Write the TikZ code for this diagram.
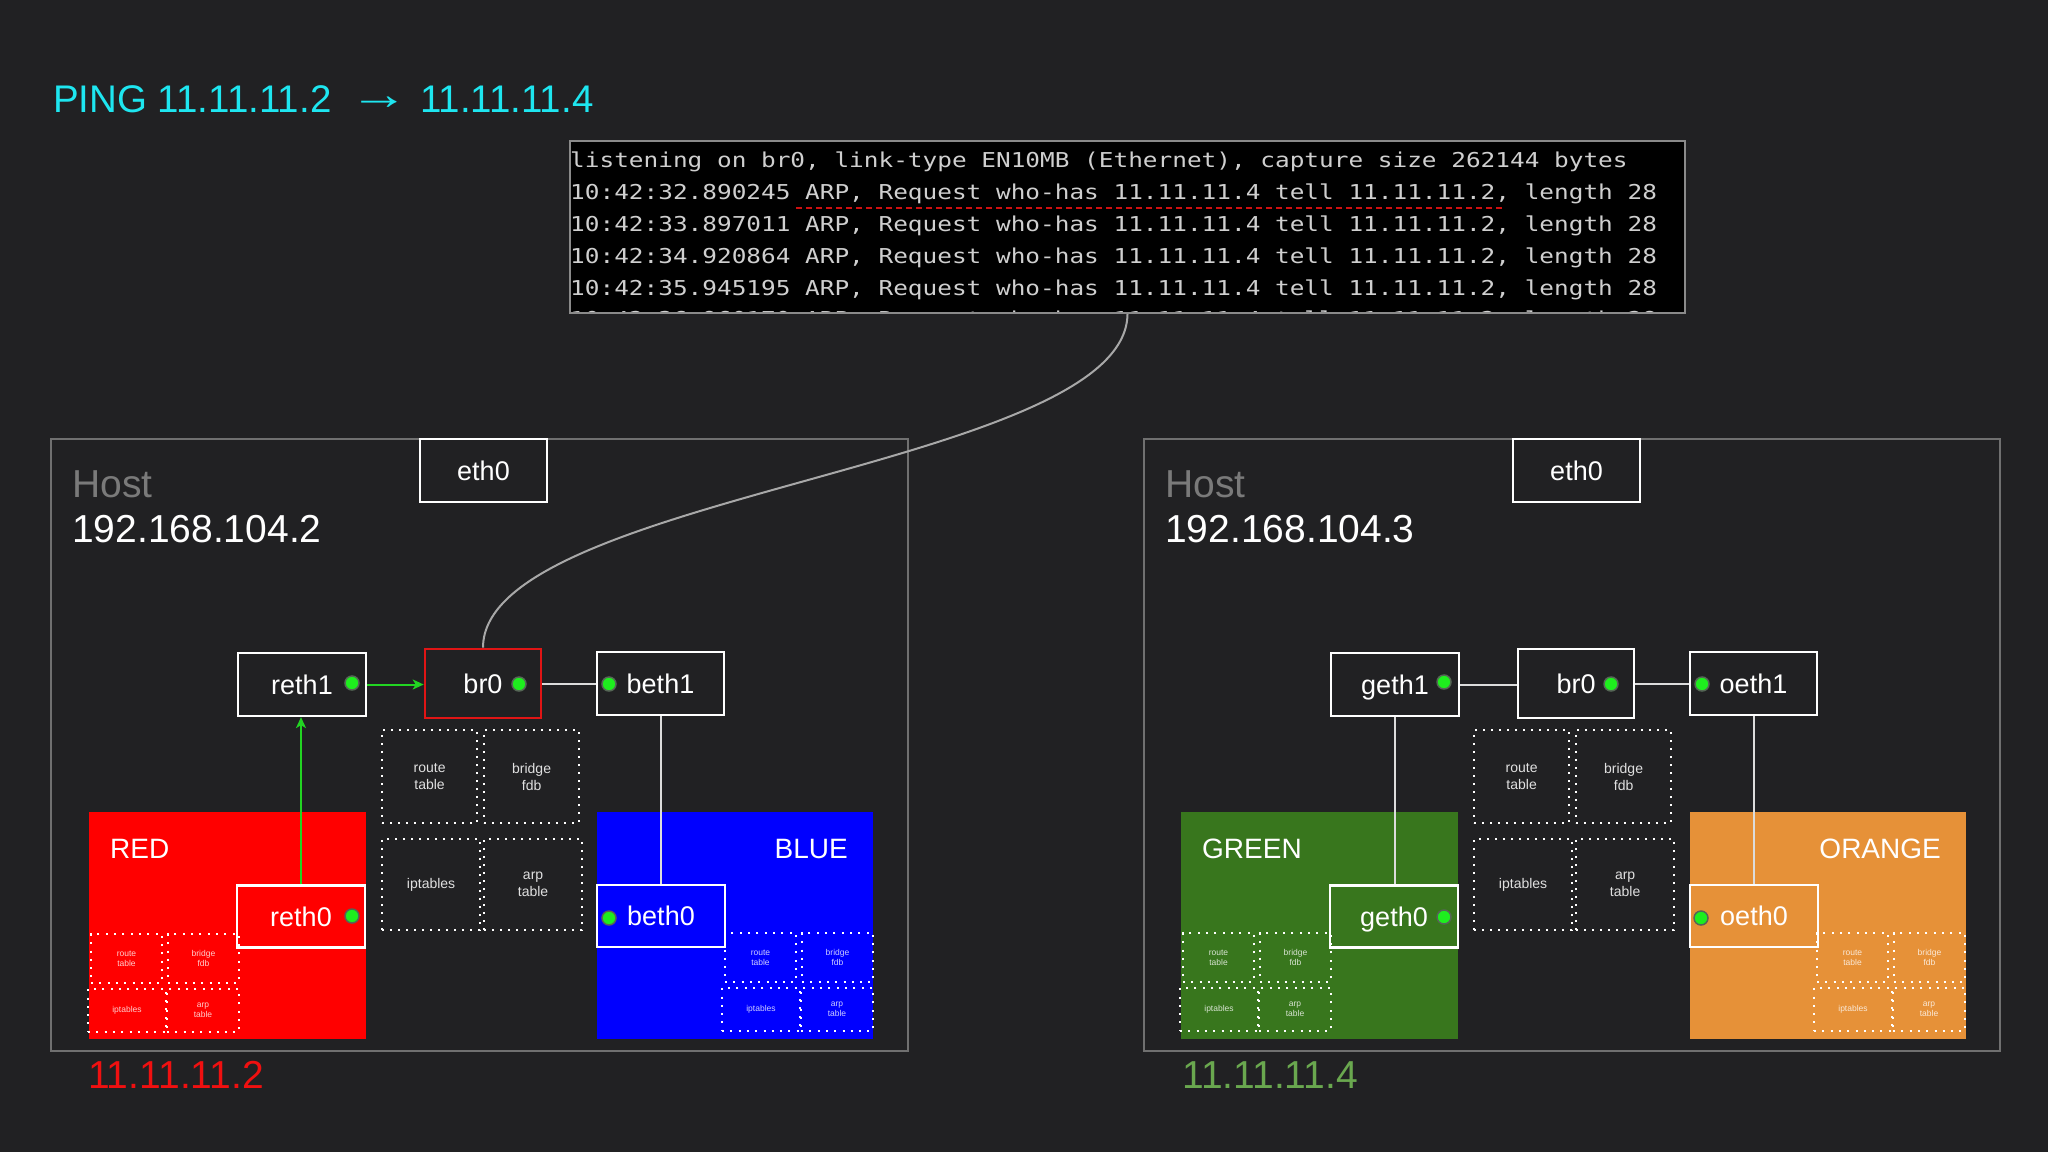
\documentclass[tikz,border=0pt]{standalone}
\usepackage{graphicx}
\usepackage{fontspec}
\setmainfont{Liberation Sans}
\newfontfamily\termfont[FakeStretch=1.19]{DejaVu Sans Mono}
\usetikzlibrary{arrows.meta}
\definecolor{bgc}{HTML}{212123}
\definecolor{hostc}{HTML}{707070}
\definecolor{hostgray}{HTML}{7A7A7A}
\definecolor{curvec}{HTML}{A8A8A8}
\definecolor{linkc}{HTML}{DCDCDC}
\definecolor{termborder}{HTML}{8A8A8A}
\definecolor{termtext}{HTML}{CFCFCF}
\definecolor{titlecyan}{HTML}{1EE6F0}
\definecolor{brred}{HTML}{E01515}
\definecolor{nsred}{HTML}{FF0000}
\definecolor{nsblue}{HTML}{0000FF}
\definecolor{nsgreen}{HTML}{38761D}
\definecolor{nsorange}{HTML}{E69138}
\definecolor{ipred}{HTML}{F01010}
\definecolor{ipgreen}{HTML}{6AA84F}
\definecolor{dotg}{HTML}{1EEE1E}
\definecolor{dotrim}{HTML}{556655}
\definecolor{arrowg}{HTML}{22D422}
\definecolor{tabtext}{HTML}{E0E0E0}
\definecolor{dashred}{HTML}{CC1111}
\tikzset{
  iface/.style={draw=white, line width=2.2pt, minimum width=128pt, minimum height=63pt,
    inner sep=0pt, text=white, text height=19.5pt, text depth=0pt,
    font=\fontsize{27}{32}\selectfont},
  ifdot/.style={circle, fill=dotg, draw=dotrim, line width=1.5pt, minimum size=14pt, inner sep=0pt},
  bigtab/.style={draw=white, line width=2.2pt, dash pattern=on 2.2pt off 5.8pt, align=center,
    text=tabtext, font=\fontsize{14}{17}\selectfont, inner sep=0pt, anchor=north west},
  smalltab/.style={draw=white, line width=2pt, dash pattern=on 2pt off 6.3pt, align=center,
    text=white, text opacity=0.8, font=\fontsize{8.5}{10.3}\selectfont, inner sep=0pt, anchor=north west},
  nsbox/.style={inner sep=0pt, minimum width=277pt, minimum height=227pt, anchor=north west},
  nslabel/.style={text=white, font=\fontsize{28}{32}\selectfont, inner sep=0pt},
  hostbox/.style={draw=hostc, line width=2.5pt},
  ethbox/.style={draw=white, fill=bgc, line width=2.2pt, minimum width=127pt, minimum height=63pt,
    inner sep=0pt, text=white, font=\fontsize{27}{32}\selectfont},
  link/.style={draw=linkc, line width=2pt},
  garrow/.style={draw=arrowg, line width=2pt, -{Stealth[length=11pt,width=10pt,inset=3pt]}},
  termline/.style={anchor=base west, inner sep=0pt, text=termtext,
    font=\termfont\fontsize{20.5}{24}\selectfont},
  bigtext/.style={inner sep=0pt, anchor=base west, font=\fontsize{39}{44}\selectfont}
}
\newcommand\bigtables[3]{%
  \node[bigtab, minimum width=95pt, minimum height=93pt] (#1rt) at (#2,#3) {route\\table};
  \node[bigtab, minimum width=95pt, minimum height=93pt] (#1bf) at (#2+102,#3) {bridge\\fdb};
  \node[bigtab, minimum width=98pt, minimum height=91pt] (#1ip) at (#2,#3+109) {iptables};
  \node[bigtab, minimum width=98pt, minimum height=91pt] (#1arp) at (#2+102,#3+109) {arp\\table};
}
\newcommand\smalltables[3]{%
  \node[smalltab, minimum width=71pt, minimum height=49pt] (#1rt) at (#2+1,#3) {route\\table};
  \node[smalltab, minimum width=71pt, minimum height=49pt] (#1bf) at (#2+78,#3) {bridge\\fdb};
  \node[smalltab, minimum width=78pt, minimum height=43pt] (#1ip) at (#2-2,#3+55) {iptables};
  \node[smalltab, minimum width=72pt, minimum height=43pt] (#1arp) at (#2+77,#3+55) {arp\\table};
}
\begin{document}
\begin{tikzpicture}[x=1pt, y=-1pt]
\fill[bgc] (0,0) rectangle (2048,1152);
\useasboundingbox (0,0) rectangle (2048,1152);

% title
\node[inner sep=0pt, anchor=base west, text=titlecyan, font=\fontsize{38.5}{44}\selectfont] (title) at (53,112)
  {PING 11.11.11.2\hspace{18pt}\raisebox{3pt}{\scalebox{1.55}[1.15]{→}}\hspace{11pt}11.11.11.4};

% terminal
\node[fill=black, draw=termborder, line width=2pt, minimum width=1115pt, minimum height=172pt,
  inner sep=0pt, anchor=north west] (term) at (569,140) {};
\node[termline] (l1) at (570,167) {listening on br0, link-type EN10MB (Ethernet), capture size 262144 bytes};
\node[termline] (l2) at (570,199.5) {10:42:32.890245 ARP, Request who-has 11.11.11.4 tell 11.11.11.2, length 28};
\node[termline] (l3) at (570,231.5) {10:42:33.897011 ARP, Request who-has 11.11.11.4 tell 11.11.11.2, length 28};
\node[termline] (l4) at (570,263.5) {10:42:34.920864 ARP, Request who-has 11.11.11.4 tell 11.11.11.2, length 28};
\node[termline] (l5) at (570,295.5) {10:42:35.945195 ARP, Request who-has 11.11.11.4 tell 11.11.11.2, length 28};
\begin{scope}
  \clip (570,141) rectangle (1683,311);
  \node[termline] (l6) at (570,326) {10:42:36.960170 ARP, Request who-has 11.11.11.4 tell 11.11.11.2, length 28};
\end{scope}
\coordinate (ulA) at (796,208);
\coordinate (ulB) at (1505,208);
\draw[dashred, line width=2pt, dash pattern=on 6pt off 4pt] (ulA) -- (ulB);

% hosts
\draw[hostbox] (51,439) rectangle (908,1051);
\draw[hostbox] (1144,439) rectangle (2000,1051);
\node[bigtext, text=hostgray] (hostL) at (72,497) {Host};
\node[bigtext, text=white] (ipL) at (72,542) {192.168.104.2};
\node[bigtext, text=hostgray] (hostR) at (1165,497) {Host};
\node[bigtext, text=white] (ipR) at (1165,542) {192.168.104.3};
\node[ethbox] (eth0L) at (483.5,470.5) {eth0};
\node[ethbox] (eth0R) at (1576.5,470.5) {eth0};

% namespaces
\node[nsbox, fill=nsred] (nsred) at (89,812) {};
\node[nsbox, fill=nsblue, minimum width=276pt] (nsblue) at (597,812) {};
\node[nsbox, fill=nsgreen] (nsgreen) at (1181,812) {};
\node[nsbox, fill=nsorange, minimum width=276pt] (nsorange) at (1690,812) {};
\node[nslabel, anchor=base west] (lred) at (110,858) {RED};
\node[nslabel, anchor=base east] (lblue) at (848,858) {BLUE};
\node[nslabel, anchor=base west] (lgreen) at (1202,858) {GREEN};
\node[nslabel, anchor=base east] (lorange) at (1941,858) {ORANGE};

% tables
\bigtables{hl}{381}{729}
\bigtables{hr}{1473}{729}
\smalltables{sr}{89}{933}
\smalltables{sb}{723}{932}
\smalltables{sg}{1181}{932}
\smalltables{so}{1815}{932}

% interfaces left host
\node[iface] (reth1) at (302,684.5) {reth1};
\node[iface, draw=brred, line width=2.6pt, minimum width=116pt, minimum height=69pt] (br0) at (483,683.5) {br0};
\node[iface, minimum width=127pt] (beth1) at (660.5,683.5) {beth1};
\node[iface, minimum height=62pt] (reth0) at (301,916.5) {reth0};
\node[iface, minimum height=62pt] (beth0) at (661,916) {beth0};
% interfaces right host
\node[iface] (geth1) at (1395,684.5) {geth1};
\node[iface, minimum width=116pt, minimum height=69pt] (br0r) at (1576,683.5) {br0};
\node[iface, minimum width=127pt] (oeth1) at (1753.5,683.5) {oeth1};
\node[iface, minimum height=62pt] (geth0) at (1394,916.5) {geth0};
\node[iface, minimum height=62pt] (oeth0) at (1754,916) {oeth0};

% dots
\node[ifdot] (dreth1) at (352,683) {};
\node[ifdot] (dbr0) at (519,684) {};
\node[ifdot] (dbeth1) at (609,684) {};
\node[ifdot] (dreth0) at (352,916) {};
\node[ifdot] (dbeth0) at (609,918) {};
\node[ifdot] (dgeth1) at (1444,682) {};
\node[ifdot] (dbr0r) at (1611,684) {};
\node[ifdot] (doeth1) at (1702,684) {};
\node[ifdot] (dgeth0) at (1444,917) {};
\node[ifdot] (doeth0) at (1701,918) {};

% connectors
\draw[garrow] (reth0.north) -- (reth0.north |- reth1.south);
\draw[garrow] (reth1.east) -- (reth1.east -| br0.west);
\draw[link] (br0.east) -- (br0.east -| beth1.west);
\draw[link] (beth1.south) -- (beth1.south |- beth0.north);
\draw[link] (geth1.east) -- (geth1.east -| br0r.west);
\draw[link] (br0r.east) -- (br0r.east -| oeth1.west);
\draw[link] (geth1.south) -- (geth1.south |- geth0.north);
\draw[link] (oeth1.south) -- (oeth1.south |- oeth0.north);
\draw[curvec, line width=2pt] (term.south) .. controls (1126,468) and (483,494) .. (br0.north);

% ip labels
\node[inner sep=0pt, anchor=base west, text=ipred, font=\fontsize{39}{42}\selectfont] (ipred) at (88,1088) {11.11.11.2};
\node[inner sep=0pt, anchor=base west, text=ipgreen, font=\fontsize{39}{42}\selectfont] (ipgreen) at (1182,1088) {11.11.11.4};
\end{tikzpicture}
\end{document}
